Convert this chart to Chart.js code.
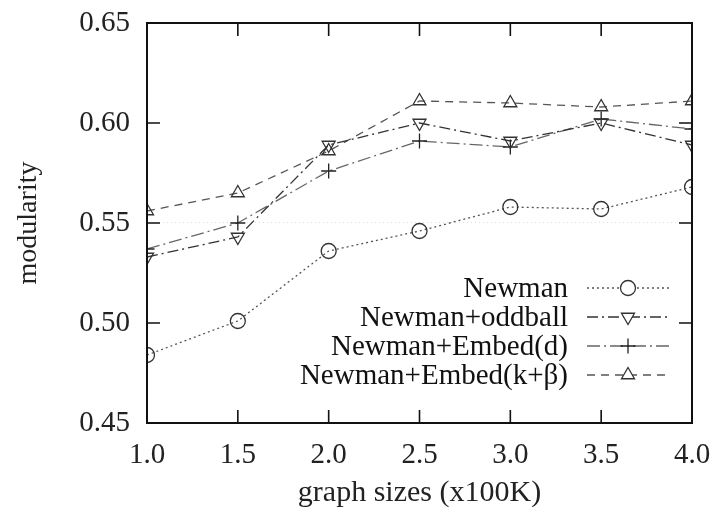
<!DOCTYPE html>
<html>
<head>
<meta charset="utf-8">
<script src="https://cdn.jsdelivr.net/npm/chart.js@4.4.1/dist/chart.umd.min.js"></script>
<style>
  html, body { margin: 0; padding: 0; background: #fff; }
  #wrap { width: 712px; height: 514px; }
</style>
</head>
<body>
<div id="wrap"><canvas id="modChart" width="712" height="514"></canvas></div>
<script>
// --- DATA ---
const graphSizes = [1.0, 1.5, 2.0, 2.5, 3.0, 3.5, 4.0];
const newman        = [0.484, 0.501, 0.536, 0.546, 0.558, 0.557, 0.568];
const newmanOddball = [0.533, 0.543, 0.589, 0.600, 0.591, 0.600, 0.589];
const newmanEmbedD  = [0.537, 0.550, 0.576, 0.591, 0.588, 0.602, 0.597];
const newmanEmbedKB = [0.556, 0.565, 0.586, 0.611, 0.610, 0.608, 0.611];
const seriesNames = ['Newman', 'Newman+oddball', 'Newman+Embed(d)', 'Newman+Embed(k+\u03b2)'];

const xTicks = [1.0, 1.5, 2.0, 2.5, 3.0, 3.5, 4.0];
const yTicks = [0.45, 0.50, 0.55, 0.60, 0.65];

const SERIF = '"Liberation Serif", "DejaVu Serif", serif';
const TICK_LEN = 13;

function series(label, values, style){
    return Object.assign({
        label,
        data: graphSizes.map((x, i) => ({ x, y: values[i] })),
        borderWidth: 1.3,
        pointRadius: 7.5,
        pointBorderWidth: 1.3,
        pointBackgroundColor: 'rgba(0,0,0,0)',
        fill: false,
        tension: 0
    }, style);
}

const datasets = [
    series(seriesNames[0], newman, {
        borderColor: '#555', borderDash: [2, 3],
        pointStyle: 'circle', pointBorderColor: '#333'
    }),
    series(seriesNames[1], newmanOddball, {
        borderColor: '#333', borderDash: [11, 4, 2, 4],
        pointStyle: 'triangle', pointRotation: 180, pointBorderColor: '#333'
    }),
    series(seriesNames[2], newmanEmbedD, {
        borderColor: '#666', borderDash: [13, 4, 2, 4],
        pointStyle: 'cross', pointBorderColor: '#222'
    }),
    series(seriesNames[3], newmanEmbedKB, {
        borderColor: '#555', borderDash: [8, 6],
        pointStyle: 'triangle', pointBorderColor: '#333'
    })
];

// frame + inward ticks on all four sides, gnuplot style
const framePlugin = {
    id: 'frame',
    afterDatasetsDraw(chart){
        const { ctx, chartArea: a, scales } = chart;
        ctx.save();
        ctx.strokeStyle = '#111';
        ctx.lineWidth = 2;
        ctx.setLineDash([]);
        ctx.strokeRect(a.left, a.top, a.right - a.left, a.bottom - a.top);
        ctx.lineWidth = 1.6;
        ctx.beginPath();
        xTicks.forEach(v => {
            const px = scales.x.getPixelForValue(v);
            ctx.moveTo(px, a.bottom); ctx.lineTo(px, a.bottom - TICK_LEN);
            ctx.moveTo(px, a.top);    ctx.lineTo(px, a.top + TICK_LEN);
        });
        yTicks.forEach(v => {
            const py = scales.y.getPixelForValue(v);
            ctx.moveTo(a.left, py);  ctx.lineTo(a.left + TICK_LEN, py);
            ctx.moveTo(a.right, py); ctx.lineTo(a.right - TICK_LEN, py);
        });
        ctx.stroke();
        ctx.restore();
    }
};

// key in the lower right: right-aligned text, then line sample with marker
const keyPlugin = {
    id: 'key',
    afterDraw(chart){
        const { ctx } = chart;
        const textRight = 568, lineL = 587, lineR = 670, markX = 628;
        const top = 288, step = 29;
        ctx.save();
        ctx.font = '29px ' + SERIF;
        ctx.textAlign = 'right';
        ctx.textBaseline = 'middle';
        chart.data.datasets.forEach((ds, i) => {
            const y = top + i * step;
            ctx.fillStyle = '#111';
            ctx.fillText(ds.label, textRight, y + 1);
            ctx.strokeStyle = ds.borderColor;
            ctx.lineWidth = ds.borderWidth;
            ctx.setLineDash(ds.borderDash);
            ctx.beginPath();
            ctx.moveTo(lineL, y); ctx.lineTo(lineR, y);
            ctx.stroke();
            ctx.setLineDash([]);
            ctx.strokeStyle = ds.pointBorderColor;
            ctx.lineWidth = ds.pointBorderWidth;
            ctx.fillStyle = '#fff';
            Chart.helpers.drawPoint(ctx, {
                pointStyle: ds.pointStyle,
                rotation: ds.pointRotation || 0,
                radius: ds.pointRadius,
                borderWidth: ds.pointBorderWidth
            }, markX, y);
        });
        ctx.restore();
    }
};

new Chart(document.getElementById('modChart'), {
    type: 'line',
    data: { datasets },
    plugins: [framePlugin, keyPlugin],
    options: {
        responsive: false,
        animation: false,
        layout: { padding: { top: 23, right: 20, left: 0, bottom: 0 } },
        plugins: { legend: { display: false }, tooltip: { enabled: false } },
        scales: {
            x: {
                type: 'linear',
                min: 1.0, max: 4.0,
                afterBuildTicks: s => { s.ticks = xTicks.map(v => ({ value: v })); },
                afterFit: s => { s.height = 91; s.paddingLeft = 0; s.paddingRight = 0; },
                ticks: {
                    color: '#222', padding: 15, maxRotation: 0,
                    font: { family: SERIF, size: 29 },
                    callback: v => v.toFixed(1)
                },
                grid: { display: false, drawTicks: false },
                border: { display: false },
                title: {
                    display: true, text: 'graph sizes (x100K)', color: '#222',
                    font: { family: SERIF, size: 30 }, padding: { top: 0, bottom: 3 }
                }
            },
            y: {
                min: 0.45, max: 0.65,
                afterBuildTicks: s => { s.ticks = yTicks.map(v => ({ value: v })); },
                afterFit: s => { s.width = 147; s.paddingTop = 0; s.paddingBottom = 0; },
                ticks: {
                    color: '#222', padding: 17,
                    font: { family: SERIF, size: 29 },
                    callback: v => v.toFixed(2)
                },
                grid: {
                    drawTicks: false,
                    color: c => Math.abs(c.tick.value - 0.55) < 1e-6 ? '#dcdcdc' : 'rgba(0,0,0,0)',
                    lineWidth: 1
                },
                border: { display: false, dash: [1, 3] },
                title: {
                    display: true, text: 'modularity', color: '#222',
                    font: { family: SERIF, size: 28 }, padding: { top: 12, bottom: 0 }
                }
            }
        }
    }
});
</script>
</body>
</html>
